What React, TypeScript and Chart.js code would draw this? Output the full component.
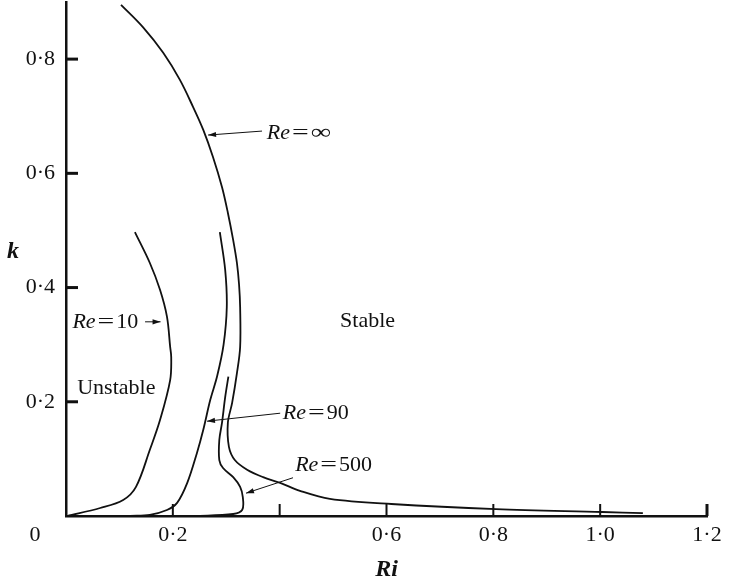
import React, { useEffect, useRef } from 'react';
import { Chart, registerables } from 'chart.js';

Chart.register(...registerables);

const SERIF = '"Liberation Serif", "Times New Roman", serif';

// Re = infinity neutral curve (Ri, k)
const reInfRi = [0.103, 0.144, 0.182, 0.213, 0.238, 0.257, 0.275, 0.292, 0.303, 0.313, 0.320, 0.324, 0.326, 0.326, 0.320, 0.311, 0.303, 0.305, 0.316, 0.339, 0.369, 0.401, 0.438, 0.494, 0.609, 0.805, 1.004, 1.080];
const reInfK = [0.895, 0.856, 0.811, 0.764, 0.716, 0.676, 0.629, 0.576, 0.531, 0.483, 0.443, 0.405, 0.366, 0.296, 0.250, 0.198, 0.163, 0.121, 0.098, 0.081, 0.068, 0.058, 0.044, 0.030, 0.021, 0.012, 0.007, 0.005];

// Re = 500
const re500Ri = [0.304, 0.298, 0.292, 0.287, 0.287, 0.294, 0.313, 0.326, 0.331, 0.330, 0.313, 0.24];
const re500K = [0.244, 0.208, 0.163, 0.133, 0.098, 0.084, 0.068, 0.051, 0.033, 0.011, 0.0035, 0.0];

// Re = 90
const re90Ri = [0.288, 0.298, 0.301, 0.295, 0.283, 0.270, 0.257, 0.245, 0.227, 0.208, 0.189, 0.157, 0.12];
const re90K = [0.497, 0.431, 0.366, 0.300, 0.245, 0.203, 0.151, 0.110, 0.058, 0.023, 0.0105, 0.002, 0.0];

// Re = 10
const re10Ri = [0.129, 0.157, 0.176, 0.189, 0.195, 0.197, 0.195, 0.176, 0.157, 0.131, 0.107, 0.064, 0.002];
const re10K = [0.497, 0.443, 0.396, 0.349, 0.296, 0.278, 0.238, 0.168, 0.116, 0.051, 0.028, 0.014, 0.0];

// ticks
const xTickValues = [0.2, 0.4, 0.6, 0.8, 1.0, 1.2];
const xTickLabels = ['0·2', '', '0·6', '0·8', '1·0', '1·2'];
const yTickValues = [0.2, 0.4, 0.6, 0.8];
const yTickLabels = ['0·2', '0·4', '0·6', '0·8'];

// curve labels (value after "Re=")
const reValues = ['∞', '10', '90', '500'];
const reLabelAt = [
  { ri: 0.376, k: 0.671, from: [0.367, 0.674], to: [0.266, 0.667] },
  { ri: 0.012, k: 0.340, from: [0.148, 0.340], to: [0.177, 0.340] },
  { ri: 0.406, k: 0.180, from: [0.401, 0.180], to: [0.264, 0.166] },
  { ri: 0.429, k: 0.089, from: [0.425, 0.067], to: [0.337, 0.040] },
];
const regionLabels = ['Unstable', 'Stable'];
const regionAt = [
  { ri: 0.021, k: 0.224 },
  { ri: 0.513, k: 0.341 },
];

const toPoints = (xs: number[], ys: number[]) => xs.map((x, i) => ({ x, y: ys[i] }));

const INK = '#111';

function stretchedText(ctx: CanvasRenderingContext2D, text: string, x: number, y: number, sx: number) {
  ctx.save();
  ctx.translate(x, y);
  ctx.scale(sx, 1);
  ctx.fillText(text, 0, 0);
  ctx.restore();
  return ctx.measureText(text).width * sx;
}

const overlay = {
  id: 'overlay',
  afterDraw(chart: any) {
    const { ctx } = chart;
    const xs = chart.scales.x;
    const ys = chart.scales.y;
    const left = xs.left;
    const bottom = ys.bottom;
    ctx.save();
    ctx.strokeStyle = INK;
    ctx.fillStyle = INK;

    // inward tick marks
    ctx.lineWidth = 3;
    yTickValues.forEach((v) => {
      const py = ys.getPixelForValue(v);
      ctx.beginPath();
      ctx.moveTo(left, py);
      ctx.lineTo(left + 12, py);
      ctx.stroke();
    });
    xTickValues.forEach((v, i) => {
      const px = xs.getPixelForValue(v);
      ctx.lineWidth = i === xTickValues.length - 1 ? 3 : 2;
      ctx.beginPath();
      ctx.moveTo(px, bottom);
      ctx.lineTo(px, bottom - 12);
      ctx.stroke();
    });

    // origin label
    ctx.font = `22px ${SERIF}`;
    ctx.textAlign = 'center';
    ctx.textBaseline = 'middle';
    ctx.fillText('0', left - 31, bottom + 19);

    // k axis title
    ctx.font = `italic bold 24px ${SERIF}`;
    ctx.fillText('k', left - 53, ys.getPixelForValue(0.462));

    // region labels
    ctx.font = `22px ${SERIF}`;
    ctx.textAlign = 'left';
    regionLabels.forEach((t, i) => {
      ctx.fillText(t, xs.getPixelForValue(regionAt[i].ri), ys.getPixelForValue(regionAt[i].k));
    });

    // Re labels with arrows
    reValues.forEach((val, i) => {
      const a = reLabelAt[i];
      let px = xs.getPixelForValue(a.ri);
      const py = ys.getPixelForValue(a.k);
      ctx.font = `italic 22px ${SERIF}`;
      ctx.fillText('Re', px, py);
      px += ctx.measureText('Re').width + 2;
      ctx.font = `22px ${SERIF}`;
      px += stretchedText(ctx, '=', px, py, 1.35) + 2;
      if (val === '∞') {
        stretchedText(ctx, val, px, py, 1.3);
      } else {
        ctx.fillText(val, px, py);
      }

      const fx = xs.getPixelForValue(a.from[0]);
      const fy = ys.getPixelForValue(a.from[1]);
      const tx = xs.getPixelForValue(a.to[0]);
      const ty = ys.getPixelForValue(a.to[1]);
      ctx.lineWidth = 1;
      ctx.beginPath();
      ctx.moveTo(fx, fy);
      ctx.lineTo(tx, ty);
      ctx.stroke();
      const ang = Math.atan2(ty - fy, tx - fx);
      const hl = 8;
      const hw = 2.6;
      ctx.beginPath();
      ctx.moveTo(tx, ty);
      ctx.lineTo(tx - hl * Math.cos(ang) + hw * Math.sin(ang), ty - hl * Math.sin(ang) - hw * Math.cos(ang));
      ctx.lineTo(tx - hl * Math.cos(ang) - hw * Math.sin(ang), ty - hl * Math.sin(ang) + hw * Math.cos(ang));
      ctx.closePath();
      ctx.fill();
    });

    ctx.restore();
  },
};

export default function App() {
  const ref = useRef<HTMLCanvasElement | null>(null);

  useEffect(() => {
    if (!ref.current) return;
    const lineStyle = {
      showLine: true,
      borderColor: INK,
      backgroundColor: INK,
      borderWidth: 1.8,
      pointRadius: 0,
      tension: 0.35,
      fill: false,
    };
    const chart = new Chart(ref.current, {
      type: 'scatter',
      data: {
        datasets: [
          { label: 'Re=∞', data: toPoints(reInfRi, reInfK), ...lineStyle },
          { label: 'Re=500', data: toPoints(re500Ri, re500K), ...lineStyle },
          { label: 'Re=90', data: toPoints(re90Ri, re90K), ...lineStyle },
          { label: 'Re=10', data: toPoints(re10Ri, re10K), ...lineStyle },
        ],
      },
      options: {
        animation: false,
        responsive: false,
        layout: { padding: { left: 0, right: 48, top: 2, bottom: 0 } },
        plugins: {
          legend: { display: false },
          tooltip: { enabled: false },
        },
        scales: {
          x: {
            type: 'linear',
            min: 0,
            max: 1.2,
            grid: { display: false, drawTicks: false },
            border: { display: true, color: INK, width: 2.5 },
            afterBuildTicks: (s: any) => {
              s.ticks = xTickValues.map((v) => ({ value: v }));
            },
            afterFit: (s: any) => {
              s.height = 68;
              s.paddingLeft = 0;
              s.paddingRight = 0;
            },
            ticks: {
              padding: 6,
              color: INK,
              maxRotation: 0,
              autoSkip: false,
              font: { family: SERIF, size: 22 },
              callback: (v: any) => {
                const i = xTickValues.findIndex((t) => Math.abs(t - Number(v)) < 1e-6);
                return i >= 0 ? xTickLabels[i] : '';
              },
            },
            title: {
              display: true,
              text: 'Ri',
              color: INK,
              padding: { top: 0, bottom: 0 },
              font: { family: SERIF, size: 24, style: 'italic', weight: 'bold' },
            },
          },
          y: {
            type: 'linear',
            min: 0,
            max: 0.9,
            grid: { display: false, drawTicks: false },
            border: { display: true, color: INK, width: 2.5 },
            afterBuildTicks: (s: any) => {
              s.ticks = yTickValues.map((v) => ({ value: v }));
            },
            afterFit: (s: any) => {
              s.width = 66;
              s.paddingTop = 0;
              s.paddingBottom = 0;
            },
            ticks: {
              padding: 11,
              color: INK,
              autoSkip: false,
              font: { family: SERIF, size: 22 },
              callback: (v: any) => {
                const i = yTickValues.findIndex((t) => Math.abs(t - Number(v)) < 1e-6);
                return i >= 0 ? yTickLabels[i] : '';
              },
            },
          },
        },
      },
      plugins: [overlay],
    } as any);
    return () => chart.destroy();
  }, []);

  return (
    <div style={{ position: 'fixed', left: 0, top: 0, width: 755, height: 584, background: '#fff' }}>
      <canvas ref={ref} width={755} height={584} style={{ display: 'block' }} />
    </div>
  );
}
